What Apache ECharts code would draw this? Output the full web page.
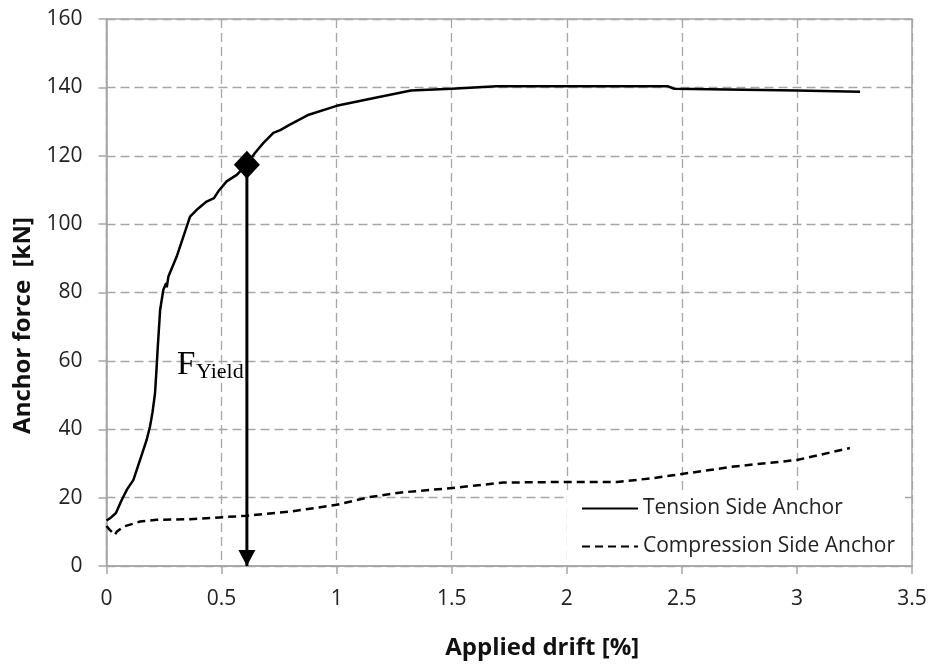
<!DOCTYPE html>
<html><head><meta charset="utf-8">
<script src="https://cdn.jsdelivr.net/npm/echarts@6/dist/echarts.min.js"></script>
<style>html,body{margin:0;padding:0;background:#fff}#c{width:930px;height:669px}</style>
</head><body><div id="c"></div>
<script>
const xTicks = [0, 0.5, 1, 1.5, 2, 2.5, 3, 3.5];
const yTicks = [0, 20, 40, 60, 80, 100, 120, 140, 160];
const tensionDrift = [0,0.02,0.041,0.066,0.09,0.117,0.153,0.175,0.189,0.2,0.211,0.218,0.222,0.233,0.247,0.259,0.262,0.269,0.305,0.363,0.392,0.435,0.467,0.486,0.522,0.566,0.609,0.645,0.681,0.725,0.755,0.797,0.879,1.0,1.163,1.323,1.5,1.695,2.0,2.44,2.467,3.0,3.274];
const tensionForce = [13.3,14.2,15.5,19.3,22.5,25.2,32.5,37,40.8,45,50.6,58.3,63.2,74.9,80.8,82.7,81.5,84.7,90.5,102.2,104.2,106.6,107.6,109.6,112.5,114.4,117.4,120.8,123.7,126.7,127.5,129.1,132.0,134.6,136.9,139.1,139.6,140.3,140.3,140.3,139.6,139.1,138.7];
const compDrift = [0,0.015,0.037,0.044,0.073,0.146,0.218,0.363,0.609,0.797,1.0,1.145,1.28,1.5,1.724,2.0,2.218,2.363,2.499,2.727,3.0,3.23];
const compForce = [11.7,10.5,9.1,10.0,11.5,13.0,13.5,13.7,14.7,15.9,17.9,20.2,21.5,22.8,24.4,24.6,24.6,25.6,26.9,29.1,31.0,34.5];
const yieldPoint = [0.61, 117.4];
const arrowEnd = [0.61, 0];
const seriesNames = ['Tension Side Anchor', 'Compression Side Anchor'];

const zip = (a, b) => a.map((v, i) => [v, b[i]]);
const chart = echarts.init(document.getElementById('c'));
const gridCol = '#a6a6a6';
const lab = {fontFamily: 'Open Sans', fontSize: 21, color: '#222'};
chart.setOption({
  animation: false,
  grid: {left: 106.5, right: 18, top: 19, bottom: 103, show: true, borderColor: gridCol, borderWidth: 1.5, backgroundColor: 'transparent'},
  xAxis: {
    type: 'value', min: 0, max: 3.5, interval: 0.5,
    axisLine: {show: true, onZero: false, lineStyle: {color: gridCol, width: 1.5}},
    axisTick: {show: true, length: 8, lineStyle: {color: gridCol, width: 1.5}},
    axisLabel: Object.assign({margin: 23, formatter: v => String(v)}, lab),
    splitLine: {show: true, lineStyle: {color: gridCol, width: 1.3, type: [9, 5]}},
    name: 'Applied drift [%]', nameLocation: 'middle', nameGap: 70,
    nameTextStyle: {fontFamily: 'Open Sans', fontWeight: 'bold', fontSize: 24, color: '#111', padding: [0, 0, 0, 66]}
  },
  yAxis: {
    type: 'value', min: 0, max: 160, interval: 20,
    axisLine: {show: true, lineStyle: {color: gridCol, width: 1.5}},
    axisTick: {show: true, length: 8, lineStyle: {color: gridCol, width: 1.5}},
    axisLabel: Object.assign({margin: 24}, lab),
    splitLine: {show: true, lineStyle: {color: gridCol, width: 1.3, type: [9, 5]}},
    name: 'Anchor force  [kN]', nameLocation: 'middle', nameGap: 70,
    nameTextStyle: {fontFamily: 'Open Sans', fontWeight: 'bold', fontSize: 24, color: '#111', padding: [0, 66, 0, 0]}
  },
  legend: {
    data: seriesNames, orient: 'vertical', left: 567, top: 490,
    backgroundColor: '#fff', borderWidth: 0, padding: [8, 10, 8, 14],
    itemWidth: 56, itemHeight: 14, itemGap: 17,
    itemStyle: {opacity: 0},
    textStyle: {fontFamily: 'Open Sans', fontSize: 21, color: '#222'}
  },
  graphic: [
    {type: 'text', left: 177, top: 349, z: 10, style: {text: 'F', fontFamily: 'Liberation Serif', fontSize: 33, fill: '#000'}},
    {type: 'text', left: 196, top: 361, z: 10, style: {text: 'Yield', fontFamily: 'Liberation Serif', fontSize: 22, fill: '#000'}}
  ],
  series: [
    {name: seriesNames[0], type: 'line', data: zip(tensionDrift, tensionForce), symbol: 'none', z: 3,
      lineStyle: {color: '#000', width: 2.5}, itemStyle: {color: '#000'}},
    {name: seriesNames[1], type: 'line', data: zip(compDrift, compForce), symbol: 'none', z: 3,
      lineStyle: {color: '#000', width: 2.5, type: [8, 5]}, itemStyle: {color: '#000'}},
    {name: 'arrow', type: 'line', data: [yieldPoint, arrowEnd], symbol: 'none', z: 5, silent: true,
      lineStyle: {color: '#000', width: 3}},
    {name: 'arrowhead', type: 'scatter', data: [arrowEnd], symbol: 'path://M0 0L17 0L8.5 16Z', symbolSize: [17, 16],
      symbolOffset: [0, -8], z: 6, silent: true, itemStyle: {color: '#000', opacity: 1}},
    {name: 'yield', type: 'scatter', data: [yieldPoint], symbol: 'diamond', symbolSize: [26, 28], z: 7, silent: true,
      itemStyle: {color: '#000', opacity: 1}}
  ]
});
</script></body></html>
